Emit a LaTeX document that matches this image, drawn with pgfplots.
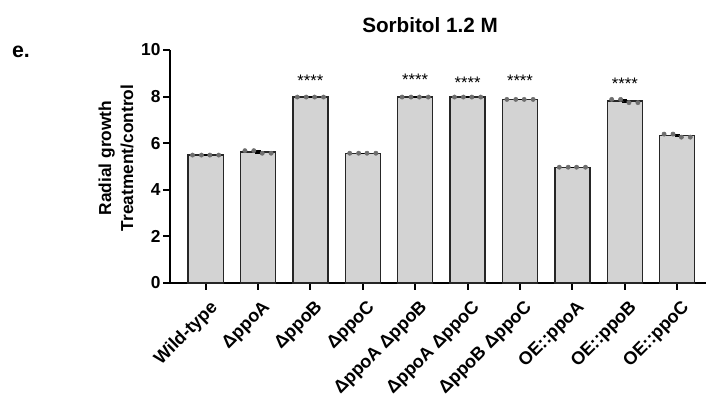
\documentclass[border=0pt]{standalone}
\usepackage{pgfplots}
\pgfplotsset{compat=1.18}
\usepackage{fontspec}
\setmainfont{Liberation Sans}
\definecolor{barfill}{RGB}{211,211,211}
\definecolor{dotc}{RGB}{110,110,110}
\begin{document}
\begin{tikzpicture}
\useasboundingbox (0pt,0pt) rectangle (530.25pt,299.25pt);
\begin{axis}[
  at={(127.5pt,87pt)}, anchor=south west,
  scale only axis, width=402pt, height=174.75pt,
  xmin=-0.68, xmax=9.55, ymin=0, ymax=10,
  axis x line*=bottom, axis y line*=left,
  axis line style={line width=1.9pt, black},
  xtick={0,...,9},
  xticklabels={Wild-type,ΔppoA,ΔppoB,ΔppoC,ΔppoA ΔppoB,ΔppoA ΔppoC,ΔppoB ΔppoC,OE::ppoA,OE::ppoB,OE::ppoC},
  ytick={0,2,4,6,8,10},
  tick align=outside,
  tick style={line width=1.6pt, black},
  major tick length=5pt,
  xticklabel style={rotate=45, anchor=east, font=\bfseries\fontsize{13.5}{14}\selectfont, inner sep=1pt, yshift=-13pt, xshift=-2pt},
  yticklabel style={font=\bfseries\fontsize{13}{14}\selectfont, inner sep=2pt},
  /pgf/number format/assume math mode=true,
  clip=false,
]
\addplot[ybar, bar width=0.67, fill=barfill, draw=black!85, line width=1pt,
  error bars/.cd, y dir=both, y explicit, error bar style={line width=1.2pt, black}, error mark options={rotate=90, mark size=2pt, line width=1pt}]
  coordinates {
  (0,5.49) +- (0,0)
  (1,5.62) +- (0,0.04)
  (2,7.98) +- (0,0)
  (3,5.57) +- (0,0)
  (4,7.98) +- (0,0)
  (5,7.98) +- (0,0)
  (6,7.88) +- (0,0)
  (7,4.97) +- (0,0)
  (8,7.81) +- (0,0.05)
  (9,6.32) +- (0,0.04)
  };
\addplot[only marks, mark=*, mark size=1.6pt, color=dotc] coordinates {
  (-0.25,5.49) (-0.08,5.49) (0.08,5.49) (0.25,5.49)
  (0.75,5.68) (0.92,5.68) (1.08,5.57) (1.25,5.57)
  (1.75,7.98) (1.92,7.98) (2.08,7.98) (2.25,7.98)
  (2.75,5.57) (2.92,5.57) (3.08,5.57) (3.25,5.57)
  (3.75,7.98) (3.92,7.98) (4.08,7.98) (4.25,7.98)
  (4.75,7.98) (4.92,7.98) (5.08,7.98) (5.25,7.98)
  (5.75,7.88) (5.92,7.88) (6.08,7.88) (6.25,7.88)
  (6.75,4.97) (6.92,4.97) (7.08,4.97) (7.25,4.97)
  (7.75,7.88) (7.92,7.88) (8.08,7.74) (8.25,7.74)
  (8.75,6.39) (8.92,6.39) (9.08,6.26) (9.25,6.26)
};
\node[font=\fontsize{12.5}{13}\selectfont] at (axis cs:2,8.69) {****};
\node[font=\fontsize{12.5}{13}\selectfont] at (axis cs:4,8.72) {****};
\node[font=\fontsize{12.5}{13}\selectfont] at (axis cs:5,8.60) {****};
\node[font=\fontsize{12.5}{13}\selectfont] at (axis cs:6,8.69) {****};
\node[font=\fontsize{12.5}{13}\selectfont] at (axis cs:8,8.57) {****};
\end{axis}
\node[font=\bfseries\fontsize{15.5}{18}\selectfont] at (322.5pt,280.5pt) {Sorbitol 1.2 M};
\node[font=\bfseries\fontsize{16}{18}\selectfont] at (15.75pt,260.25pt) {e.};
\node[rotate=90, align=center, font=\bfseries\fontsize{13}{16.5}\selectfont] at (87pt,180.75pt) {Radial growth\\Treatment/control};
\end{tikzpicture}
\end{document}
